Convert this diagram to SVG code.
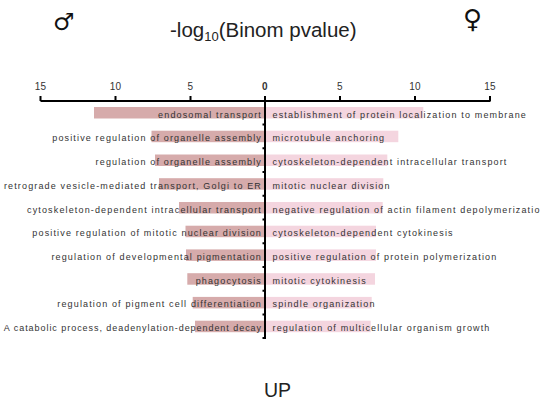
<svg xmlns="http://www.w3.org/2000/svg" width="546" height="405" viewBox="0 0 546 405">
  <style>
    text { font-family: "Liberation Sans", Arial, sans-serif; fill: #222; }
    .title { font-size: 20.5px; }
    .sym { font-family: "DejaVu Sans", sans-serif; fill: #111; }
    .tick { font-size: 10px; text-anchor: middle; fill: #333; letter-spacing: 0.3px; }
    .lab { font-size: 9px; letter-spacing: 1.15px; fill: #333; }
    .lab-l { text-anchor: end; }
    .lab-tight { letter-spacing: 0.95px; }
    .male { fill: #d6abab; }
    .female { fill: #f4d5df; }
    .axis { stroke: #000; stroke-width: 2; fill: none; }
  </style>

  <rect width="546" height="405" fill="#fff"/>

  <!-- header -->
  <g id="header">
    <text class="sym" x="53" y="30" font-size="24">♂</text>
    <text class="sym" x="463" y="28" font-size="26" font-weight="bold">♀</text>
    <text class="title" x="170" y="37">-log<tspan font-size="13" dy="4">10</tspan><tspan dy="-4">(Binom pvalue)</tspan></text>
  </g>

  <!-- value axis: 15 px per unit, zero at x=265 -->
  <g id="value-axis">
    <path class="axis" d="M40.5 101H490.5M40.5 96V101M115.5 96V101M190.5 96V101M265 96V101M340 96V101M415 96V101M490 96V101"/>
    <text class="tick" x="40.5" y="90">15</text>
    <text class="tick" x="115.5" y="90">10</text>
    <text class="tick" x="190.5" y="90">5</text>
    <text class="tick" x="265" y="90" font-weight="bold">0</text>
    <text class="tick" x="340" y="90">5</text>
    <text class="tick" x="415" y="90">10</text>
    <text class="tick" x="490" y="90">15</text>
  </g>

  <!-- male (left) bars -->
  <g id="male-bars">
    <rect class="male" x="94" y="107" width="171" height="11.5"/>
    <rect class="male" x="151.5" y="130.7" width="113.5" height="11.5"/>
    <rect class="male" x="155" y="154.5" width="110" height="11.5"/>
    <rect class="male" x="159" y="178.2" width="106" height="11.5"/>
    <rect class="male" x="179" y="202" width="86" height="11.5"/>
    <rect class="male" x="185.5" y="225.7" width="79.5" height="11.5"/>
    <rect class="male" x="186" y="249.4" width="79" height="11.5"/>
    <rect class="male" x="187.3" y="273.2" width="77.7" height="11.5"/>
    <rect class="male" x="192.7" y="296.9" width="72.3" height="11.5"/>
    <rect class="male" x="195" y="320.7" width="70" height="11.5"/>
  </g>

  <!-- female (right) bars -->
  <g id="female-bars">
    <rect class="female" x="266" y="107" width="157.3" height="11.5"/>
    <rect class="female" x="266" y="130.7" width="132.3" height="11.5"/>
    <rect class="female" x="266" y="154.5" width="121.3" height="11.5"/>
    <rect class="female" x="266" y="178.2" width="117.3" height="11.5"/>
    <rect class="female" x="266" y="202" width="116.7" height="11.5"/>
    <rect class="female" x="266" y="225.7" width="110" height="11.5"/>
    <rect class="female" x="266" y="249.4" width="110" height="11.5"/>
    <rect class="female" x="266" y="273.2" width="109" height="11.5"/>
    <rect class="female" x="266" y="296.9" width="105.7" height="11.5"/>
    <rect class="female" x="266" y="320.7" width="104.7" height="11.5"/>
  </g>

  <!-- category axis -->
  <g id="category-axis">
    <path class="axis" d="M265 101V339M265 124.5H262.5M265 148.2H262.5M265 172H262.5M265 195.7H262.5M265 219.5H262.5M265 243.2H262.5M265 267H262.5M265 290.7H262.5M265 314.5H262.5M265 338H262.5"/>
  </g>

  <!-- term labels, male side -->
  <g id="male-labels">
    <text class="lab lab-l" x="262" y="117.5">endosomal transport</text>
    <text class="lab lab-l" x="262" y="141.2">positive regulation of organelle assembly</text>
    <text class="lab lab-l" x="262" y="165">regulation of organelle assembly</text>
    <text class="lab lab-l" x="262" y="188.7">retrograde vesicle-mediated transport, Golgi to ER</text>
    <text class="lab lab-l" x="262" y="212.5">cytoskeleton-dependent intracellular transport</text>
    <text class="lab lab-l" x="262" y="236.2">positive regulation of mitotic nuclear division</text>
    <text class="lab lab-l" x="262" y="259.9">regulation of developmental pigmentation</text>
    <text class="lab lab-l" x="262" y="283.7">phagocytosis</text>
    <text class="lab lab-l" x="262" y="307.4">regulation of pigment cell differentiation</text>
    <text class="lab lab-l lab-tight" x="262" y="331.2">A catabolic process, deadenylation-dependent decay</text>
  </g>

  <!-- term labels, female side -->
  <g id="female-labels">
    <text class="lab" x="272.5" y="117.5">establishment of protein localization to membrane</text>
    <text class="lab" x="272.5" y="141.2">microtubule anchoring</text>
    <text class="lab" x="272.5" y="165">cytoskeleton-dependent intracellular transport</text>
    <text class="lab" x="272.5" y="188.7">mitotic nuclear division</text>
    <text class="lab" x="272.5" y="212.5">negative regulation of actin filament depolymerizatio</text>
    <text class="lab" x="272.5" y="236.2">cytoskeleton-dependent cytokinesis</text>
    <text class="lab" x="272.5" y="259.9">positive regulation of protein polymerization</text>
    <text class="lab" x="272.5" y="283.7">mitotic cytokinesis</text>
    <text class="lab" x="272.5" y="307.4">spindle organization</text>
    <text class="lab" x="272.5" y="331.2">regulation of multicellular organism growth</text>
  </g>

  <g id="footer">
    <text x="264" y="397" font-size="19.5">UP</text>
  </g>
</svg>
